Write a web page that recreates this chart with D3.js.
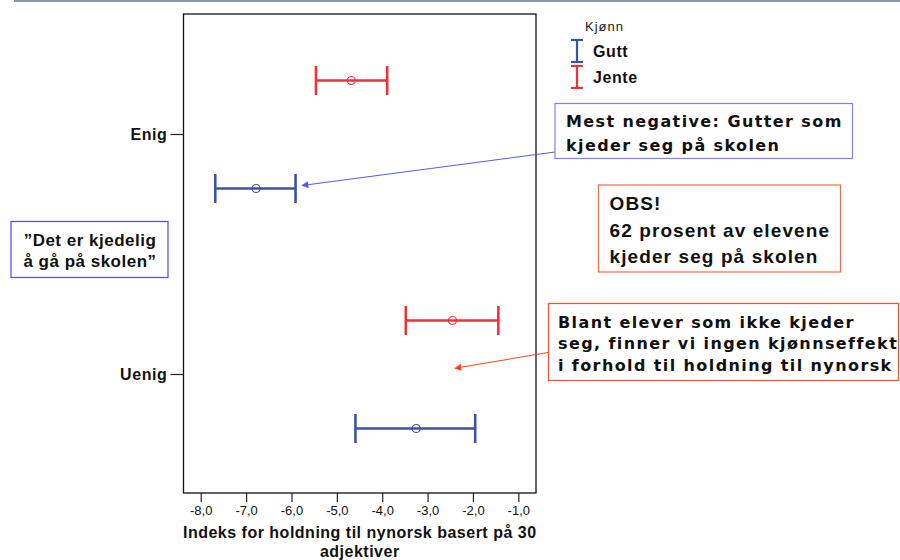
<!DOCTYPE html>
<html>
<head>
<meta charset="utf-8">
<script src="https://cdn.jsdelivr.net/npm/d3@7"></script>
<style>
  html, body { margin: 0; padding: 0; background: #fff; }
  svg { display: block; }
</style>
</head>
<body>
<svg id="chart" width="900" height="560"></svg>
<script>
// ---- data ----
const categories = ["Enig", "Uenig"];
const groups = ["Jente", "Gutt"];
const legendGroups = ["Gutt", "Jente"];
const guttMean = [-6.78, -3.25];
const guttLow = [-7.68, -4.59];
const guttHigh = [-5.91, -1.95];
const jenteMean = [-4.68, -2.45];
const jenteLow = [-5.46, -3.48];
const jenteHigh = [-3.89, -1.44];
const xTicks = [-8, -7, -6, -5, -4, -3, -2, -1];
const xTitleLines = ["Indeks for holdning til nynorsk basert på 30", "adjektiver"];
const legendTitle = "Kjønn";
const noteBored = ["”Det er kjedelig", "å gå på skolen”"];
const noteMostNeg = ["Mest negative: Gutter som", "kjeder seg på skolen"];
const noteObs = ["OBS!", "62 prosent av elevene", "kjeder seg på skolen"];
const noteNotBored = ["Blant elever som ikke kjeder", "seg, finner vi ingen kjønnseffekt", "i forhold til holdning til nynorsk"];

const colors = { Gutt: "#3a53a4", Jente: "#ee3338" };

const rows = [];
categories.forEach((c, i) => {
  rows.push({ cat: c, group: "Gutt", mean: guttMean[i], low: guttLow[i], high: guttHigh[i] });
  rows.push({ cat: c, group: "Jente", mean: jenteMean[i], low: jenteLow[i], high: jenteHigh[i] });
});

const ARIAL = "Liberation Sans, Arial, sans-serif";
const VERDANA = "DejaVu Sans, Verdana, sans-serif";

// ---- layout ----
const svg = d3.select("#chart");
const box = { left: 183.5, right: 536, top: 14, bottom: 493 };

const x = d3.scaleLinear().domain([-8.38, -0.61]).range([box.left, box.right]);
const y = d3.scaleBand().domain(categories).range([box.top + 0.5, box.bottom + 1.5]);
const ySub = d3.scalePoint().domain(groups).range([-54, 54]);
const yPos = d => y(d.cat) + y.bandwidth() / 2 + ySub(d.group);

// top rule
svg.append("line").attr("x1", 14).attr("x2", 900).attr("y1", 1).attr("y2", 1)
  .attr("stroke", "#8797ab").attr("stroke-width", 2);

// plot frame
svg.append("rect").attr("x", box.left).attr("y", box.top)
  .attr("width", box.right - box.left).attr("height", box.bottom - box.top)
  .attr("fill", "none").attr("stroke", "#111").attr("stroke-width", 1.3);

// x axis
const xAxis = d3.axisBottom(x).tickValues(xTicks).tickSize(9).tickPadding(4)
  .tickFormat(d => d.toFixed(1).replace(".", ","));
const gx = svg.append("g").attr("transform", `translate(0,${box.bottom})`).call(xAxis);
gx.select(".domain").remove();
gx.selectAll(".tick line").attr("stroke", "#222").attr("stroke-width", 1.2);
gx.selectAll(".tick text").attr("font-family", ARIAL)
  .attr("font-size", 13).attr("fill", "#111");

// y axis
const yAxis = d3.axisLeft(y).tickSize(13).tickPadding(3);
const gy = svg.append("g").attr("transform", `translate(${box.left},0)`).call(yAxis);
gy.select(".domain").remove();
gy.selectAll(".tick line").attr("stroke", "#222").attr("stroke-width", 1.2);
gy.selectAll(".tick text").attr("font-family", ARIAL)
  .attr("font-size", 16).attr("font-weight", "bold").attr("fill", "#111")
  .attr("letter-spacing", 0.6);

// x title
svg.append("text").attr("x", (box.left + box.right) / 2).attr("y", 538)
  .attr("text-anchor", "middle").attr("font-family", ARIAL)
  .attr("font-size", 16).attr("font-weight", "bold").attr("fill", "#111")
  .attr("letter-spacing", 0.5)
  .selectAll("tspan").data(xTitleLines).join("tspan")
  .attr("x", (box.left + box.right) / 2).attr("dy", (d, i) => i === 0 ? 0 : 19).text(d => d);

// error bars
const capH = 14.5;
const eb = svg.append("g").selectAll("g").data(rows).join("g")
  .attr("stroke", d => colors[d.group]);
eb.append("line").attr("x1", d => x(d.low)).attr("x2", d => x(d.high))
  .attr("y1", yPos).attr("y2", yPos).attr("stroke-width", 2.6);
eb.append("line").attr("x1", d => x(d.low)).attr("x2", d => x(d.low))
  .attr("y1", d => yPos(d) - capH).attr("y2", d => yPos(d) + capH).attr("stroke-width", 2.6);
eb.append("line").attr("x1", d => x(d.high)).attr("x2", d => x(d.high))
  .attr("y1", d => yPos(d) - capH).attr("y2", d => yPos(d) + capH).attr("stroke-width", 2.6);
eb.append("circle").attr("cx", d => x(d.mean)).attr("cy", yPos).attr("r", 4)
  .attr("fill", "none").attr("stroke-width", 1.2);

// legend
const lg = svg.append("g");
lg.append("text").attr("x", 585).attr("y", 31).text(legendTitle)
  .attr("font-family", ARIAL).attr("font-size", 13).attr("letter-spacing", 1).attr("fill", "#222");
legendGroups.forEach((g, i) => {
  const yc = 51 + i * 26;
  const gg = lg.append("g").attr("stroke", colors[g]).attr("stroke-width", 2.2);
  gg.append("line").attr("x1", 577).attr("x2", 577).attr("y1", yc - 11).attr("y2", yc + 11);
  gg.append("line").attr("x1", 571).attr("x2", 583).attr("y1", yc - 11).attr("y2", yc - 11);
  gg.append("line").attr("x1", 571).attr("x2", 583).attr("y1", yc + 11).attr("y2", yc + 11);
  lg.append("text").attr("x", 593).attr("y", yc + 6).text(g)
    .attr("font-family", ARIAL).attr("font-size", 16).attr("letter-spacing", 0.6)
    .attr("font-weight", "bold").attr("fill", "#111");
});

// annotation helper
function note(lines, o) {
  svg.append("rect").attr("x", o.x).attr("y", o.y).attr("width", o.w).attr("height", o.h)
    .attr("fill", "#fff").attr("stroke", o.stroke).attr("stroke-width", 1.2);
  svg.append("text").attr("font-family", o.font).attr("font-size", o.size)
    .attr("font-weight", "bold").attr("fill", "#111")
    .attr("letter-spacing", o.ls || 0)
    .attr("text-anchor", o.anchor || "start")
    .selectAll("tspan").data(lines).join("tspan")
    .attr("x", o.tx).attr("y", (d, i) => o.ty + i * o.lh).text(d => d);
}

// arrows
const defs = svg.append("defs");
function marker(id, col) {
  defs.append("marker").attr("id", id).attr("viewBox", "0 0 10 10")
    .attr("refX", 9).attr("refY", 5).attr("markerWidth", 9).attr("markerHeight", 7)
    .attr("markerUnits", "userSpaceOnUse").attr("orient", "auto")
    .append("path").attr("d", "M0,0 L10,5 L0,10 z").attr("fill", col);
}
marker("arBlue", "#5a5af0");
marker("arRed", "#ff4515");
svg.append("line").attr("x1", 555).attr("y1", 152).attr("x2", 302).attr("y2", 185.5)
  .attr("stroke", "#5a5af0").attr("stroke-width", 1.1).attr("marker-end", "url(#arBlue)");
svg.append("line").attr("x1", 548).attr("y1", 352.5).attr("x2", 455).attr("y2", 368.3)
  .attr("stroke", "#ff4515").attr("stroke-width", 1.1).attr("marker-end", "url(#arRed)");

note(noteBored, { x: 11, y: 221.5, w: 157, h: 56, stroke: "#4a4af0",
  font: ARIAL, size: 17, ls: 0.5, tx: 90, ty: 245.5, lh: 21.5, anchor: "middle" });
note(noteMostNeg, { x: 555, y: 103.5, w: 297.5, h: 55, stroke: "#8080f0",
  font: VERDANA, size: 16, ls: 1.4, tx: 566, ty: 127, lh: 23.5 });
note(noteObs, { x: 598.5, y: 185, w: 242, h: 87, stroke: "#f36a4a",
  font: ARIAL, size: 19, ls: 1.1, tx: 609.5, ty: 210, lh: 26.5 });
note(noteNotBored, { x: 548.5, y: 303.5, w: 350, h: 77, stroke: "#f2522c",
  font: VERDANA, size: 16, ls: 1.4, tx: 558, ty: 327.5, lh: 21.7 });
</script>
</body>
</html>
